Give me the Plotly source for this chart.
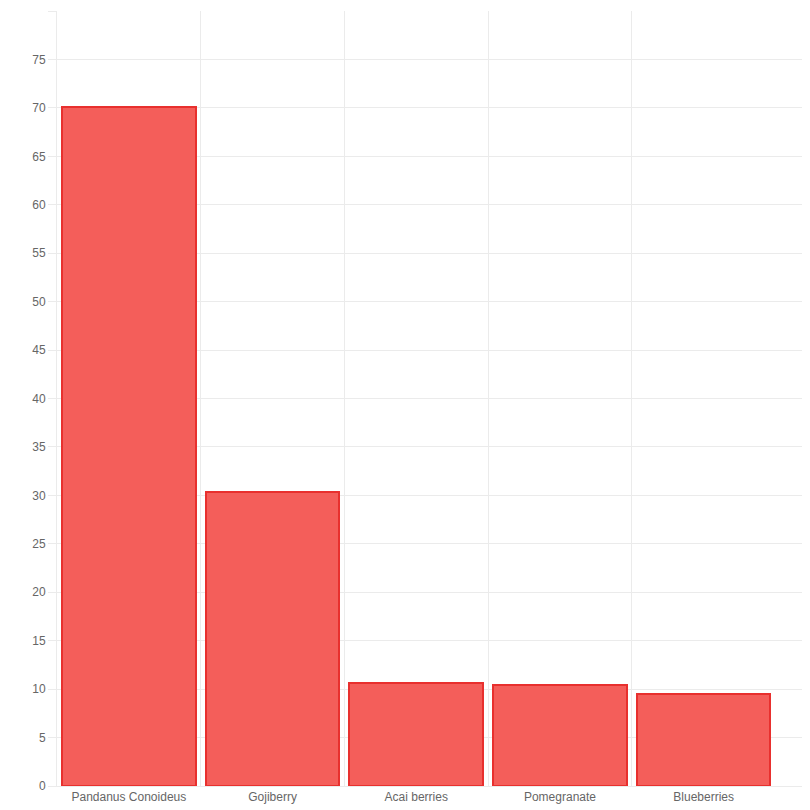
import plotly.graph_objects as go

categories = ["Pandanus Conoideus", "Gojiberry", "Acai berries", "Pomegranate", "Blueberries"]
values = [70.1, 30.4, 10.6, 10.4, 9.5]

xs = list(range(len(categories)))
fig = go.Figure(go.Bar(
    x=xs, y=values, width=0.93,
    marker=dict(color="rgba(244,94,90,1)", line=dict(color="#e8302e", width=2)),
))
grid = "#ebebeb"
fig.update_layout(
    width=802, height=802, margin=dict(l=49, r=0, t=3, b=24),
    plot_bgcolor="white", paper_bgcolor="white", showlegend=False,
    font=dict(family="Liberation Sans, Arial, sans-serif", size=12, color="#666"),
    xaxis=dict(range=[-0.5, 4.74], tickvals=xs, ticktext=categories, showgrid=False,
               zeroline=False, showline=True, linecolor=grid, ticks="",
               minor=dict(tickvals=[-0.5, 0.5, 1.5, 2.5, 3.5], showgrid=True, gridcolor=grid, ticks="")),
    yaxis=dict(range=[0, 80], dtick=5, gridcolor=grid, zeroline=False, showline=True,
               linecolor=grid, ticks="outside", ticklen=8, tickcolor=grid),
    bargap=0,
)
fig.write_html("out.html")
